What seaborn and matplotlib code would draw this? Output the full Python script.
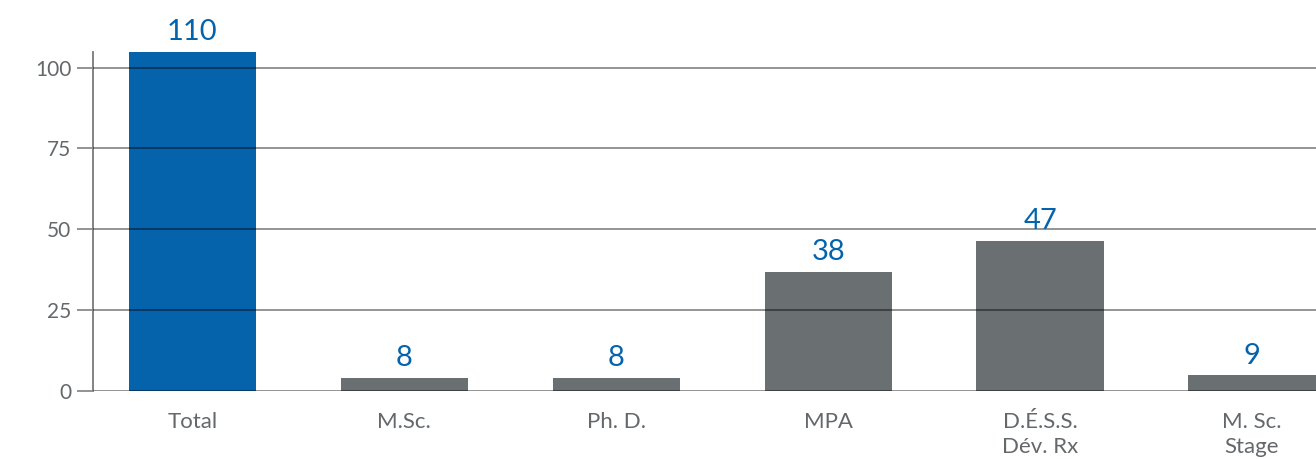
import matplotlib
matplotlib.use("Agg")
import matplotlib.pyplot as plt
import seaborn as sns
import pandas as pd

categories = ["Total", "M.Sc.", "Ph. D.", "MPA", "D.É.S.S.\nDév. Rx", "M. Sc.\nStage"]
bar_heights = [110, 4, 4, 36.8, 46.5, 4.8]   # bar heights as drawn in the picture
value_labels = ["110", "8", "8", "38", "47", "9"]
y_ticks = [0, 25, 50, 75, 100]

BLUE = "#0563AB"
GREY_BAR = "#6A6F72"
TEXT_GREY = "#64686B"
bar_colors = [BLUE] + [GREY_BAR] * (len(categories) - 1)

sns.set_style("white")
plt.rcParams["font.family"] = ["Lato", "DejaVu Sans"]

W, H, DPI = 1316, 459, 100
fig = plt.figure(figsize=(W / DPI, H / DPI), dpi=DPI)
left_px, right_px = 93, 1316 + 64
bottom_px, top_px = 391, 52
ax = fig.add_axes([left_px / W, (H - bottom_px) / H,
                   (right_px - left_px) / W, (bottom_px - top_px) / H])

df = pd.DataFrame({"cat": categories, "val": bar_heights})
sns.barplot(data=df, x="cat", y="val", hue="cat", palette=bar_colors,
            legend=False, width=0.6, ax=ax, saturation=1, linewidth=0)

ymax = 104.8
ax.set_ylim(0, ymax)
ax.set_xlim(-0.469, (right_px - 192.5) / 211.9)
ax.set_yticks(y_ticks)
ax.set_xlabel("")
ax.set_ylabel("")

ax.set_axisbelow(False)
ax.yaxis.grid(True, color="black", alpha=0.45, linewidth=1.3)
ax.xaxis.grid(False)
for s in ["top", "right", "bottom"]:
    ax.spines[s].set_visible(False)
ax.spines["left"].set_color("#7a7a7a")
ax.spines["left"].set_linewidth(1.3)

ax.tick_params(axis="y", length=11.5, width=1.3, color="#8a8a8a",
               labelsize=15, labelcolor=TEXT_GREY, pad=4, left=True)
ax.tick_params(axis="x", length=0, labelsize=16, labelcolor=TEXT_GREY, pad=15)
for lbl in ax.get_xticklabels():
    lbl.set_linespacing(1.35)

for i, (h, lab) in enumerate(zip(bar_heights, value_labels)):
    ax.annotate(lab, xy=(i, min(h, ymax)), xytext=(0, 5), textcoords="offset points",
                ha="center", va="bottom", fontsize=21, color=BLUE, annotation_clip=False)

fig.savefig("out.png", dpi=DPI)
